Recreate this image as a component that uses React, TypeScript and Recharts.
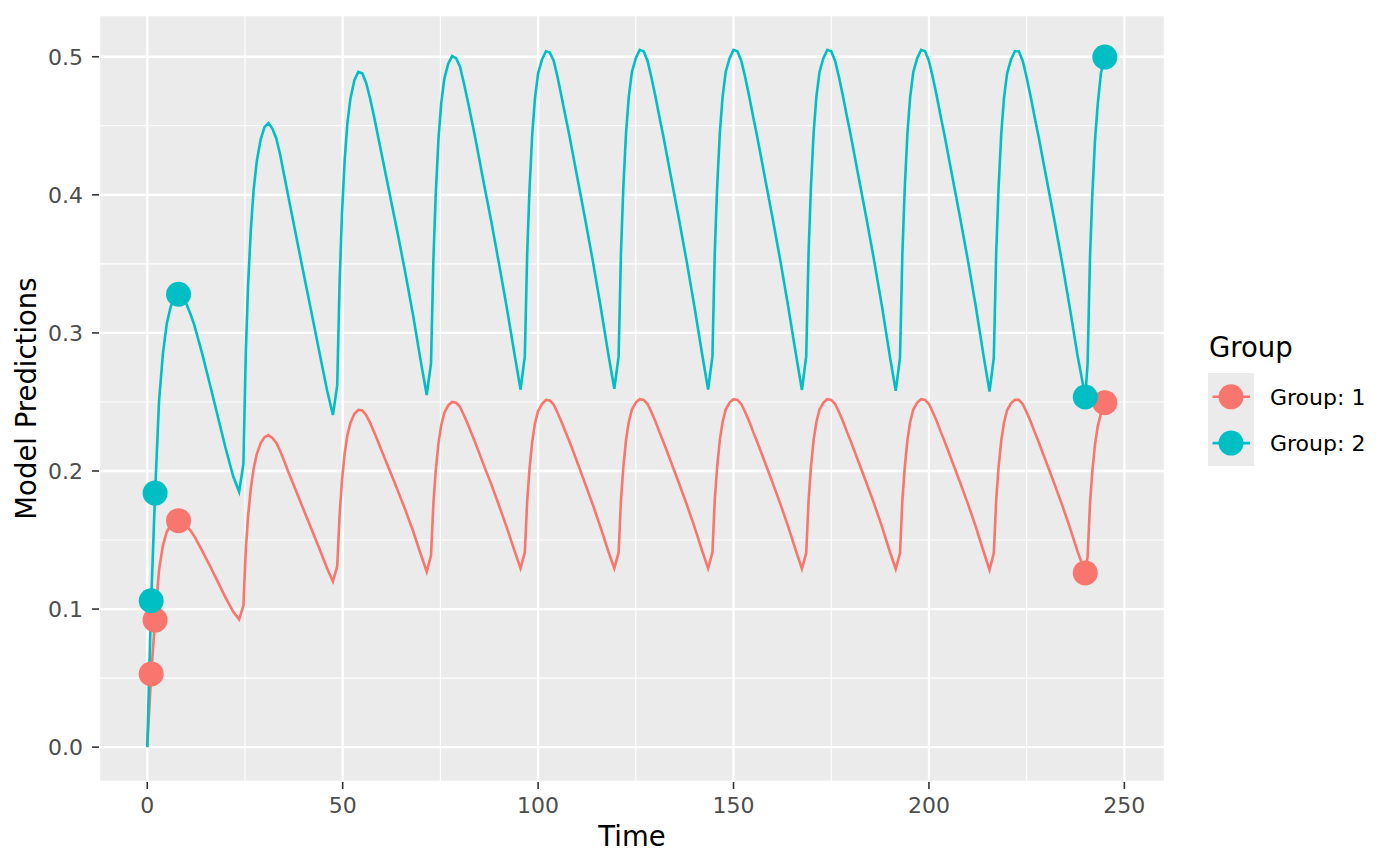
import { CartesianGrid, ComposedChart, Line, Scatter, XAxis, YAxis } from 'recharts';

// time grid (hours) of the model prediction curves, one row per dosing interval
const hours = [
  0, 1, 2, 3, 4, 5, 6, 7, 8, 9, 10, 11, 12, 14, 16, 18, 20, 22, 23.5,
  24.6, 25.2, 25.8, 26.5, 27.2, 28, 29, 30, 31, 32, 33, 34, 35, 36, 38, 40, 42, 44, 46, 47.5,
  48.6, 49.2, 49.8, 50.5, 51.2, 52, 53, 54, 55, 56, 57, 58, 59, 60, 62, 64, 66, 68, 70, 71.5,
  72.6, 73.2, 73.8, 74.5, 75.2, 76, 77, 78, 79, 80, 81, 82, 83, 84, 86, 88, 90, 92, 94, 95.5,
  96.6, 97.2, 97.8, 98.5, 99.2, 100, 101, 102, 103, 104, 105, 106, 107, 108, 110, 112, 114, 116, 118, 119.5,
  120.6, 121.2, 121.8, 122.5, 123.2, 124, 125, 126, 127, 128, 129, 130, 131, 132, 134, 136, 138, 140, 142, 143.5,
  144.6, 145.2, 145.8, 146.5, 147.2, 148, 149, 150, 151, 152, 153, 154, 155, 156, 158, 160, 162, 164, 166, 167.5,
  168.6, 169.2, 169.8, 170.5, 171.2, 172, 173, 174, 175, 176, 177, 178, 179, 180, 182, 184, 186, 188, 190, 191.5,
  192.6, 193.2, 193.8, 194.5, 195.2, 196, 197, 198, 199, 200, 201, 202, 203, 204, 206, 208, 210, 212, 214, 215.5,
  216.6, 217.2, 217.8, 218.5, 219.2, 220, 221, 222, 223, 224, 225, 226, 227, 228, 230, 232, 234, 236, 238, 240,
  240.6, 241.2, 241.8, 242.5, 243.2, 244, 245,
];

const group1 = [
  0, 0.053, 0.092, 0.128, 0.146, 0.156, 0.161, 0.1635, 0.164, 0.163, 0.1605, 0.157, 0.153, 0.1425, 0.1315, 0.12, 0.1085, 0.098, 0.0925,
  0.1025, 0.1425, 0.1675, 0.1875, 0.2015, 0.212, 0.22, 0.2245, 0.226, 0.224, 0.2205, 0.2145, 0.2075, 0.2, 0.186, 0.172, 0.158, 0.144, 0.1295, 0.12,
  0.131, 0.1675, 0.1925, 0.2125, 0.226, 0.235, 0.2415, 0.2442, 0.2438, 0.2405, 0.235, 0.2285, 0.2215, 0.2145, 0.2005, 0.1865, 0.172, 0.1565, 0.1395, 0.127,
  0.139, 0.176, 0.2, 0.22, 0.233, 0.242, 0.2475, 0.25, 0.2495, 0.2465, 0.2405, 0.234, 0.227, 0.22, 0.205, 0.1905, 0.175, 0.159, 0.142, 0.1295,
  0.141, 0.178, 0.2015, 0.2215, 0.2345, 0.2435, 0.2485, 0.2515, 0.251, 0.248, 0.242, 0.2355, 0.2285, 0.2215, 0.2065, 0.191, 0.1755, 0.159, 0.1415, 0.1295,
  0.141, 0.179, 0.2025, 0.2225, 0.2355, 0.2445, 0.2495, 0.252, 0.2515, 0.2485, 0.2425, 0.236, 0.2285, 0.2215, 0.2065, 0.1915, 0.176, 0.1595, 0.142, 0.1295,
  0.141, 0.179, 0.2025, 0.2225, 0.2355, 0.2445, 0.2495, 0.252, 0.2515, 0.2485, 0.2425, 0.236, 0.2285, 0.2215, 0.2065, 0.1915, 0.176, 0.1595, 0.142, 0.1292,
  0.1405, 0.1785, 0.2025, 0.2225, 0.2355, 0.2445, 0.2495, 0.252, 0.2515, 0.2485, 0.2425, 0.236, 0.2285, 0.2215, 0.2065, 0.1915, 0.176, 0.1595, 0.1415, 0.129,
  0.1405, 0.1785, 0.202, 0.2225, 0.2355, 0.2445, 0.2495, 0.252, 0.2515, 0.2485, 0.2425, 0.236, 0.2285, 0.2215, 0.2065, 0.1915, 0.176, 0.1595, 0.1415, 0.1283,
  0.1405, 0.1785, 0.202, 0.222, 0.235, 0.244, 0.249, 0.2515, 0.2515, 0.2485, 0.2425, 0.236, 0.2285, 0.2215, 0.2065, 0.1915, 0.176, 0.1595, 0.142, 0.1262,
  0.138, 0.176, 0.1995, 0.2195, 0.2325, 0.2415, 0.2495,
];

const group2 = [
  0, 0.106, 0.184, 0.25, 0.285, 0.307, 0.319, 0.326, 0.328, 0.3255, 0.321, 0.314, 0.306, 0.2855, 0.263, 0.24, 0.217, 0.196, 0.185,
  0.205, 0.285, 0.335, 0.375, 0.403, 0.424, 0.44, 0.449, 0.452, 0.448, 0.441, 0.429, 0.4145, 0.4, 0.3715, 0.343, 0.315, 0.2865, 0.2585, 0.2405,
  0.262, 0.335, 0.385, 0.425, 0.452, 0.47, 0.483, 0.489, 0.488, 0.481, 0.47, 0.457, 0.443, 0.429, 0.401, 0.373, 0.344, 0.313, 0.279, 0.255,
  0.278, 0.352, 0.4, 0.44, 0.466, 0.484, 0.495, 0.5005, 0.499, 0.493, 0.481, 0.468, 0.454, 0.44, 0.41, 0.381, 0.35, 0.318, 0.284, 0.259,
  0.283, 0.357, 0.404, 0.444, 0.47, 0.488, 0.498, 0.504, 0.503, 0.497, 0.485, 0.471, 0.457, 0.443, 0.413, 0.383, 0.352, 0.319, 0.284, 0.2595,
  0.283, 0.358, 0.405, 0.445, 0.471, 0.489, 0.499, 0.505, 0.504, 0.497, 0.485, 0.4715, 0.457, 0.443, 0.413, 0.383, 0.352, 0.319, 0.284, 0.259,
  0.283, 0.358, 0.405, 0.445, 0.471, 0.489, 0.499, 0.505, 0.504, 0.497, 0.485, 0.4715, 0.457, 0.443, 0.413, 0.383, 0.352, 0.319, 0.284, 0.2587,
  0.283, 0.358, 0.405, 0.445, 0.471, 0.489, 0.499, 0.505, 0.504, 0.497, 0.485, 0.4715, 0.457, 0.443, 0.413, 0.383, 0.352, 0.319, 0.283, 0.258,
  0.282, 0.357, 0.404, 0.445, 0.471, 0.489, 0.499, 0.505, 0.504, 0.497, 0.485, 0.4715, 0.457, 0.443, 0.413, 0.383, 0.352, 0.319, 0.283, 0.2575,
  0.282, 0.357, 0.404, 0.444, 0.47, 0.488, 0.498, 0.504, 0.504, 0.497, 0.485, 0.4715, 0.457, 0.443, 0.413, 0.383, 0.352, 0.319, 0.284, 0.2536,
  0.278, 0.354, 0.4, 0.44, 0.466, 0.488, 0.4998,
];

// observed points drawn as big dots
const obsHours = [1, 2, 8, 240, 245];
const obsGroup1 = [0.053, 0.092, 0.164, 0.1262, 0.2495];
const obsGroup2 = [0.106, 0.184, 0.328, 0.2536, 0.4998];

const xTicks = [0, 50, 100, 150, 200, 250];
const xMinor = [25, 75, 125, 175, 225];
const yTicks = [0, 0.1, 0.2, 0.3, 0.4, 0.5];
const yMinor = [0.05, 0.15, 0.25, 0.35, 0.45];

const groupNames = ['Group: 1', 'Group: 2'];
const RED = '#F8766D';
const TEAL = '#00BFC4';
const colors = [RED, TEAL];

const FONT = '"DejaVu Sans", sans-serif';

const data = hours.map((t, i) => ({ t, g1: group1[i], g2: group2[i] }));
const obs1 = obsHours.map((t, i) => ({ t, y: obsGroup1[i] }));
const obs2 = obsHours.map((t, i) => ({ t, y: obsGroup2[i] }));

const dotShape = (color: string) => (props: any) => (
  <circle cx={props.cx} cy={props.cy} r={12.5} fill={color} />
);

function App(): JSX.Element {
  const tickStyle = { fill: '#4D4D4D', fontSize: 22, fontFamily: FONT };
  return (
    <div style={{ position: 'absolute', left: 0, top: 0, width: 1400, height: 866, background: '#fff', fontFamily: FONT }}>
      <ComposedChart width={1400} height={866} data={data} margin={{ top: 15, right: 235, bottom: 0, left: 0 }}>
        <CartesianGrid
          horizontalValues={yMinor}
          verticalValues={xMinor}
          stroke="#FFFFFF"
          strokeWidth={1.1}
          fill="#EBEBEB"
          fillOpacity={1}
        />
        <CartesianGrid stroke="#FFFFFF" strokeWidth={2.3} />
        <XAxis
          dataKey="t"
          type="number"
          domain={[-12.35, 260.4]}
          ticks={xTicks}
          interval={0}
          height={84}
          axisLine={false}
          tickSize={7}
          tickMargin={8}
          tickLine={{ stroke: '#333333', strokeWidth: 1.6 }}
          tick={tickStyle}
        />
        <YAxis
          type="number"
          domain={[-0.02525, 0.53025]}
          ticks={yTicks}
          interval={0}
          width={99}
          axisLine={false}
          tickSize={7}
          tickMargin={9}
          tickLine={{ stroke: '#333333', strokeWidth: 1.6 }}
          tick={tickStyle}
          tickFormatter={(v: number) => v.toFixed(1)}
        />
        <Line type="linear" dataKey="g1" stroke={RED} strokeWidth={2.6} dot={false} activeDot={false} isAnimationActive={false} />
        <Line type="linear" dataKey="g2" stroke={TEAL} strokeWidth={2.6} dot={false} activeDot={false} isAnimationActive={false} />
        <Scatter data={obs1} dataKey="y" shape={dotShape(RED)} isAnimationActive={false} />
        <Scatter data={obs2} dataKey="y" shape={dotShape(TEAL)} isAnimationActive={false} />
      </ComposedChart>
      <svg width={1400} height={866} style={{ position: 'absolute', left: 0, top: 0, pointerEvents: 'none' }}>
        <text x={632} y={845.5} textAnchor="middle" fontSize={27.5} fill="#000" fontFamily={FONT}>
          Time
        </text>
        <text transform="translate(36,398.5) rotate(-90)" textAnchor="middle" fontSize={27.5} fill="#000" fontFamily={FONT}>
          Model Predictions
        </text>
        <text x={1209} y={356.5} fontSize={27.5} fill="#000" fontFamily={FONT}>
          Group
        </text>
        <rect x={1208} y={373} width={46} height={93} fill="#EBEBEB" />
        {groupNames.map((name, i) => {
          const cy = 396.8 + i * 46.3;
          return (
            <g key={name}>
              <line x1={1212.5} x2={1250} y1={cy} y2={cy} stroke={colors[i]} strokeWidth={2.6} />
              <circle cx={1231} cy={cy} r={12.5} fill={colors[i]} />
              <text x={1270} y={cy + 8} fontSize={22} fill="#000" fontFamily={FONT}>
                {name}
              </text>
            </g>
          );
        })}
      </svg>
    </div>
  );
}

export default App;
